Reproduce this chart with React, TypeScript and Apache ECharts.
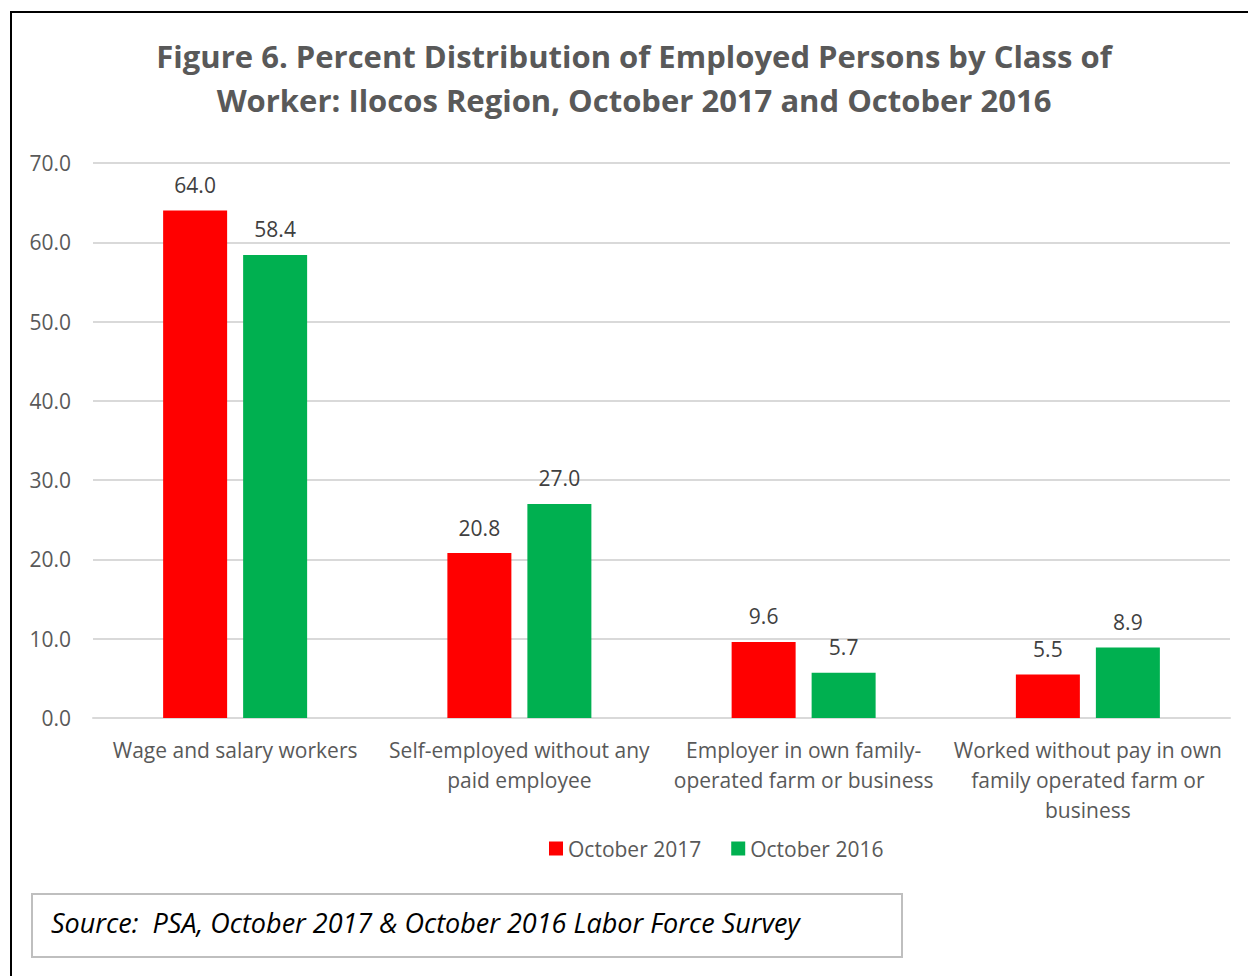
import React, { useEffect, useRef } from "react";
import * as echarts from "echarts";

const categories = [
  "Wage and salary workers",
  "Self-employed without any\npaid employee",
  "Employer in own family-\noperated farm or business",
  "Worked without pay in own\nfamily operated farm or\nbusiness",
];
const oct2017 = [64.0, 20.8, 9.6, 5.5];
const oct2016 = [58.4, 27.0, 5.7, 8.9];
const yTicks = { min: 0, max: 70, interval: 10 };
const titleLines = [
  "Figure 6. Percent Distribution of Employed Persons by Class of",
  "Worker: Ilocos Region, October 2017 and October 2016",
];
const sourceText = "Source:  PSA, October 2017 & October 2016 Labor Force Survey";

const FONT = "'Open Sans', Lato, sans-serif";

export default function App() {
  const ref = useRef<HTMLDivElement>(null);
  useEffect(() => {
    if (!ref.current) return;
    const chart = echarts.init(ref.current, undefined, { renderer: "svg" });
    const labelStyle = {
      show: true,
      position: "top",
      distance: 15,
      fontSize: 21,
      color: "#404040",
      fontFamily: FONT,
      formatter: (p: any) => Number(p.value).toFixed(1),
    };
    chart.setOption({
      animation: false,
      backgroundColor: "#ffffff",
      textStyle: { fontFamily: FONT },
      grid: { left: 93, right: 18, top: 163, bottom: 258, containLabel: false },
      legend: {
        left: 549,
        top: 838,
        padding: 0,
        itemWidth: 14,
        itemHeight: 14,
        itemGap: 30,
        icon: "rect",
        textStyle: { fontSize: 21, color: "#595959", fontFamily: FONT },
        data: ["October 2017", "October 2016"],
      },
      xAxis: {
        type: "category",
        data: categories,
        axisLine: { show: true, lineStyle: { color: "#d9d9d9", width: 2 } },
        axisTick: { show: false },
        axisLabel: {
          interval: 0,
          fontSize: 21,
          lineHeight: 30,
          color: "#595959",
          margin: 17,
          fontFamily: FONT,
        },
      },
      yAxis: {
        type: "value",
        min: yTicks.min,
        max: yTicks.max,
        interval: yTicks.interval,
        axisLine: { show: false },
        axisTick: { show: false },
        axisLabel: {
          fontSize: 21,
          color: "#595959",
          margin: 22,
          fontFamily: FONT,
          formatter: (v: number) => v.toFixed(1),
        },
        splitLine: { lineStyle: { color: "#d9d9d9", width: 2 } },
      },
      series: [
        {
          name: "October 2017",
          type: "bar",
          data: oct2017,
          barWidth: 64,
          barGap: "25%",
          itemStyle: { color: "#ff0000" },
          label: labelStyle,
        },
        {
          name: "October 2016",
          type: "bar",
          data: oct2016,
          barWidth: 64,
          itemStyle: { color: "#00b050" },
          label: labelStyle,
        },
      ],
      graphic: [
        {
          type: "rect",
          shape: { x: 11, y: 12, width: 1400, height: 1100 },
          style: { fill: "none", stroke: "#000000", lineWidth: 2 },
          z: 10,
        },
        {
          type: "text",
          x: 634,
          y: 56,
          style: {
            text: titleLines[0],
            fill: "#595959",
            font: `bold 31px ${FONT}`,
            textAlign: "center",
            textVerticalAlign: "middle",
          },
        },
        {
          type: "text",
          x: 634,
          y: 100,
          style: {
            text: titleLines[1],
            fill: "#595959",
            font: `bold 31px ${FONT}`,
            textAlign: "center",
            textVerticalAlign: "middle",
          },
        },
        {
          type: "rect",
          shape: { x: 32, y: 894, width: 870, height: 63 },
          style: { fill: "#ffffff", stroke: "#bfbfbf", lineWidth: 2 },
        },
        {
          type: "text",
          x: 51,
          y: 922,
          style: {
            text: sourceText,
            fill: "#000000",
            font: `italic 27px ${FONT}`,
            textAlign: "left",
            textVerticalAlign: "middle",
          },
        },
      ],
    });
    return () => chart.dispose();
  }, []);
  return (
    <div
      ref={ref}
      style={{ position: "fixed", left: 0, top: 0, width: 1248, height: 976 }}
    />
  );
}
